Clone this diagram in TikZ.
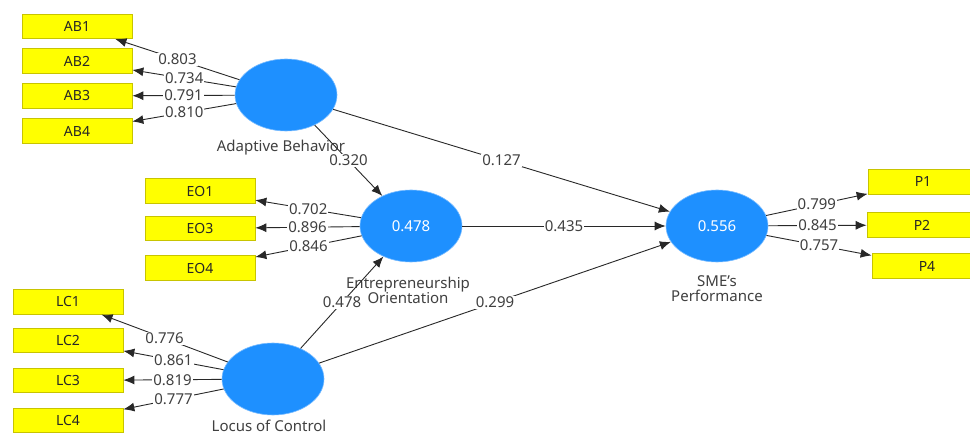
\documentclass[tikz,border=0pt]{standalone}
\usepackage{fontspec}
\setmainfont{Noto Sans}
\usetikzlibrary{shapes.geometric,arrows.meta}
\definecolor{lvblue}{RGB}{30,144,255}
\definecolor{boxyellow}{RGB}{255,255,0}
\definecolor{boxedge}{RGB}{200,196,0}
\definecolor{lblgray}{RGB}{64,64,64}
\definecolor{linegray}{RGB}{40,40,40}
\tikzset{
  latent/.style={ellipse, fill=lvblue, draw=lvblue!60, line width=0.6pt, minimum width=102pt, minimum height=72pt, inner sep=0pt, text=white, font=\fontsize{15}{18}\selectfont},
  indic/.style={rectangle, fill=boxyellow, draw=boxedge, line width=0.7pt, minimum width=110pt, minimum height=24.5pt, inner sep=0pt, text=black!85, font=\fontsize{14}{16}\selectfont},
  lvname/.style={text=lblgray, font=\fontsize{15}{18}\selectfont, align=center, inner sep=0pt},
  coef/.style={fill=white, text=lblgray, inner sep=1pt, font=\fontsize{15}{18}\selectfont},
  arr/.style={draw=linegray, line width=0.9pt, -{Latex[length=11pt,width=9pt]}}
}
\begin{document}
\begin{tikzpicture}[x=1pt,y=-1pt]
\clip (0,0) rectangle (970,435);
\fill[white] (0,0) rectangle (970,435);
% latent variables
\node[latent] (ab) at (286,95) {};
\node[latent] (eo) at (411,226) {0.478};
\node[latent] (lc) at (273,379) {};
\node[latent] (sme) at (717,226) {0.556};
% names
\node[lvname] (abn) at (281,148) {Adaptive Behavior};
\node[lvname] (eon) at (408,290) {Entrepreneurship\\[-3pt]Orientation};
\node[lvname] (lcn) at (269,426) {Locus of Control};
\node[lvname] (smen) at (717,289) {SME\char39 s\\[-3pt]Performance};
% indicators
\node[indic] (AB1) at (77,26.5) {AB1};
\node[indic] (AB2) at (77,61) {AB2};
\node[indic] (AB3) at (77,96) {AB3};
\node[indic] (AB4) at (77,131) {AB4};
\node[indic] (EO1) at (200,191) {EO1};
\node[indic] (EO3) at (200,228.5) {EO3};
\node[indic] (EO4) at (200,268) {EO4};
\node[indic] (LC1) at (68,302) {LC1};
\node[indic] (LC2) at (68,340.5) {LC2};
\node[indic] (LC3) at (68,380.5) {LC3};
\node[indic] (LC4) at (68,420.5) {LC4};
\node[indic] (P1) at (923,182) {P1};
\node[indic] (P2) at (922,225) {P2};
\node[indic] (P4) at (927,266) {P4};
% outer loadings
\draw[arr] (ab) -- node[coef]{0.803} (AB1);
\draw[arr] (ab) -- node[coef]{0.734} (AB2);
\draw[arr] (ab) -- node[coef]{0.791} (AB3);
\draw[arr] (ab) -- node[coef]{0.810} (AB4);
\draw[arr] (eo) -- node[coef]{0.702} (EO1);
\draw[arr] (eo) -- node[coef]{0.896} (EO3);
\draw[arr] (eo) -- node[coef]{0.846} (EO4);
\draw[arr] (lc) -- node[coef]{0.776} (LC1);
\draw[arr] (lc) -- node[coef]{0.861} (LC2);
\draw[arr] (lc) -- node[coef]{0.819} (LC3);
\draw[arr] (lc) -- node[coef]{0.777} (LC4);
\draw[arr] (sme) -- node[coef]{0.799} (P1);
\draw[arr] (sme) -- node[coef]{0.845} (P2);
\draw[arr] (sme) -- node[coef]{0.757} (P4);
% structural paths
\draw[arr] (ab) -- node[coef]{0.320} (eo);
\draw[arr] (ab) -- node[coef]{0.127} (sme);
\draw[arr] (eo) -- node[coef]{0.435} (sme);
\draw[arr] (lc) -- node[coef]{0.478} (eo);
\draw[arr] (lc) -- node[coef]{0.299} (sme);
\end{tikzpicture}
\end{document}
